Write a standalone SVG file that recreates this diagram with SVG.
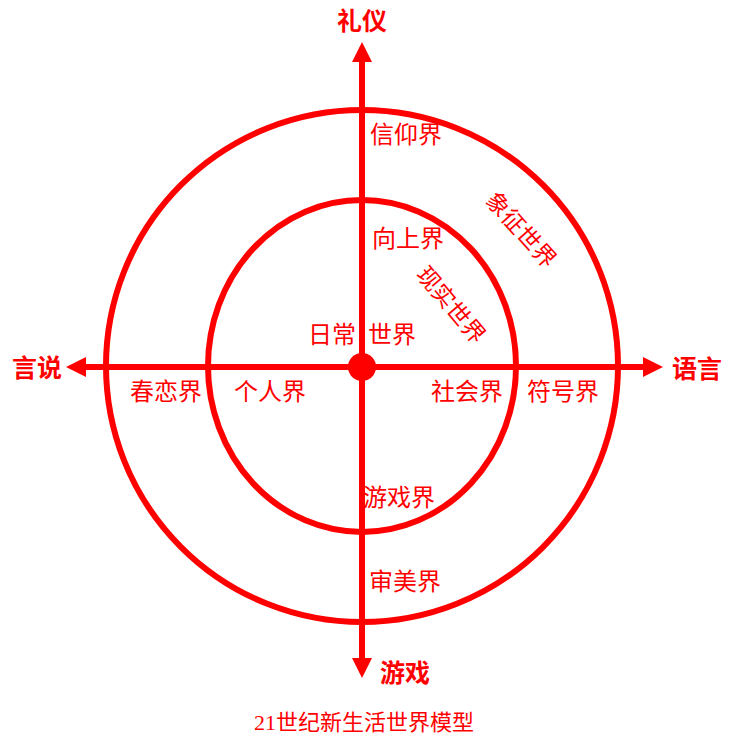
<svg xmlns="http://www.w3.org/2000/svg" width="735" height="743" viewBox="0 0 735 743">
<defs>
<style>
.ring{fill:none;stroke:#ff0000;stroke-width:6}
.axis{stroke:#ff0000;stroke-width:6}
.lbl{font-family:"Liberation Serif","Noto Sans CJK SC",serif;font-size:24px;fill:#ff0000}
.rot{font-family:"Liberation Serif","Noto Sans CJK SC",serif;font-size:23px;fill:#ff0000}
.ax{font-family:"Liberation Serif","Noto Sans CJK SC",serif;font-size:25px;font-weight:bold;fill:#ff0000}
.ttl{font-family:"Liberation Serif","Noto Sans CJK SC",serif;font-size:22px;fill:#ff0000}
</style>
<marker id="arr" markerUnits="userSpaceOnUse" markerWidth="20" markerHeight="20" refX="0" refY="10" orient="auto-start-reverse" viewBox="0 0 20 20">
<path d="M0,0 L20,10 L0,20 z" fill="#ff0000"/>
</marker>
</defs>
<rect width="735" height="743" fill="#ffffff"/>
<g id="rings">
<circle id="outer" class="ring" cx="362" cy="366" r="256"/>
<ellipse id="inner" class="ring" cx="362" cy="366" rx="154" ry="166"/>
</g>
<g id="connectors">
<line class="axis" x1="362" y1="658" x2="362" y2="62" marker-start="url(#arr)" marker-end="url(#arr)"/>
<line class="axis" x1="86" y1="367" x2="643" y2="367" marker-start="url(#arr)" marker-end="url(#arr)"/>
</g>
<g id="center"><circle cx="362" cy="367" r="14" fill="#ff0000"/></g>
<g id="axis-labels">
<text class="ax" x="362" y="30" text-anchor="middle">礼仪</text>
<text class="ax" x="37" y="377" text-anchor="middle">言说</text>
<text class="ax" x="697" y="378" text-anchor="middle">语言</text>
<text class="ax" x="405" y="682" text-anchor="middle">游戏</text>
</g>
<g id="labels">
<text class="lbl" x="406" y="143" text-anchor="middle">信仰界</text>
<text class="lbl" x="408" y="247" text-anchor="middle">向上界</text>
<text class="lbl" x="332" y="343" text-anchor="middle">日常</text>
<text class="lbl" x="392" y="343" text-anchor="middle">世界</text>
<text class="lbl" x="166" y="400" text-anchor="middle">春恋界</text>
<text class="lbl" x="270" y="400" text-anchor="middle">个人界</text>
<text class="lbl" x="467" y="400" text-anchor="middle">社会界</text>
<text class="lbl" x="563" y="400" text-anchor="middle">符号界</text>
<text class="lbl" x="399" y="506" text-anchor="middle">游戏界</text>
<text class="lbl" x="405" y="590" text-anchor="middle">审美界</text>
<text class="rot" text-anchor="middle" transform="translate(521,230) rotate(48)" y="8">象征世界</text>
<text class="rot" text-anchor="middle" transform="translate(451,305) rotate(50)" y="8">现实世界</text>
</g>
<g id="title">
<text class="ttl" x="364" y="730" text-anchor="middle">21世纪新生活世界模型</text>
</g>
</svg>
